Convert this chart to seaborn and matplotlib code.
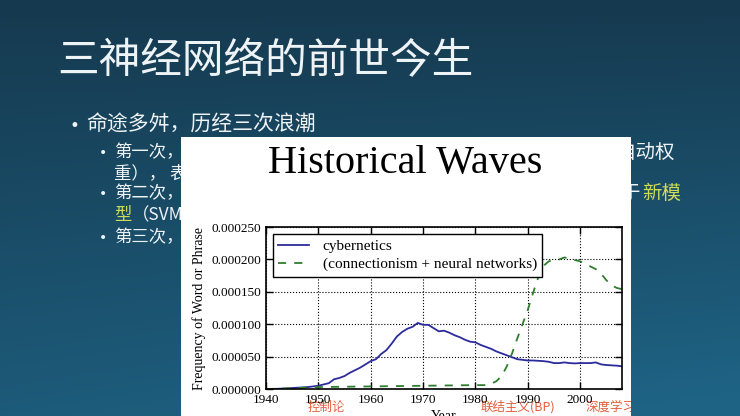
import numpy as np
import pandas as pd
import matplotlib
matplotlib.use("Agg")
import matplotlib.pyplot as plt
import matplotlib.patches as mpatches
from matplotlib.ticker import FormatStrFormatter
from matplotlib.transforms import Bbox
import seaborn as sns

# data (frequency values in units of 1e-6)
years = list(range(1940, 2009))
cybernetics = [0.0, 0.0, 0.3, 0.6, 1.0, 1.5, 2.0, 2.5, 3.0, 4.0,
               5.0, 7.0, 9.0, 15.0, 17.0, 20.0, 25.0, 29.0, 33.0, 38.0,
               43.0, 46.0, 54.0, 60.0, 70.0, 81.0, 88.0, 93.0, 96.0, 102.0,
               99.0, 99.0, 94.0, 89.0, 90.0, 87.0, 83.0, 80.0, 76.0, 73.0,
               72.0, 68.0, 65.0, 62.0, 58.0, 55.0, 52.0, 49.0, 46.0, 45.0,
               44.0, 44.0, 43.5, 43.0, 42.0, 40.0, 40.0, 41.0, 40.0, 39.5,
               40.0, 40.0, 40.0, 41.0, 38.0, 37.0, 36.5, 36.0, 35.0]
conn_years = [1940, 1945, 1950, 1955, 1960, 1965, 1970, 1975, 1980, 1982,
              1983, 1984, 1985, 1986, 1987, 1988, 1989, 1990, 1991, 1992,
              1993, 1994, 1995, 1996, 1997, 1998, 1999, 2000, 2001, 2002,
              2003, 2004, 2005, 2006, 2007, 2008]
connectionism = [0, 1, 3, 3.5, 4, 4.5, 5, 5.5, 6, 6,
                 8, 12, 20, 35, 55, 78, 100, 122, 148, 172,
                 190, 197, 199, 200, 203, 201, 199, 197, 193, 189,
                 185, 178, 168, 160, 156, 154]
y_ticks = [0.0, 0.00005, 0.0001, 0.00015, 0.0002, 0.00025]
x_ticks = [1940, 1950, 1960, 1970, 1980, 1990, 2000]

series_names = ["cybernetics", "(connectionism + neural networks)"]
chart_title = "Historical Waves"
era_labels = ["控制论", "联结主义(BP)", "深度学习"]

slide_title = "三神经网络的前世今生"
bullet_main = "命途多舛，历经三次浪潮"

plt.rcParams["font.family"] = ["Noto Sans CJK SC", "DejaVu Sans"]
serif = ["Liberation Serif", "DejaVu Serif"]
cjk = ["Noto Sans CJK SC", "DejaVu Sans"]

fig = plt.figure(figsize=(7.4, 4.16), dpi=100)

# slide background with a soft gradient
bg = fig.add_axes([0, 0, 1, 1])
bg.set_zorder(-5)
yy, xx = np.mgrid[0:1:416j, 0:1:740j]
t = np.clip(0.8 * yy + 0.25 * xx * yy, 0, 1)[..., None]
top_c = np.array([0.085, 0.225, 0.31])
bot_c = np.array([0.12, 0.39, 0.52])
bg.imshow(top_c + (bot_c - top_c) * t, extent=[0, 740, 416, 0], aspect="auto")
bg.set_xlim(0, 740)
bg.set_ylim(416, 0)
bg.axis("off")

white = "#eef3f6"
green_y = "#cddc5a"

bg.text(57, 62, slide_title, fontsize=30, color=white, va="center", family=cjk, zorder=2)
bg.text(70, 126, "•", fontsize=12, color=white, va="center", family=["DejaVu Sans"], zorder=2)
bg.text(86, 125, bullet_main, fontsize=15, color=white, va="center", family=cjk, zorder=2)

sub_rows = [(152, "第一次，"), (193, "第二次，"), (237, "第三次，")]
for yv, txt in sub_rows:
    bg.text(99, yv + 1, "•", fontsize=10, color=white, va="center", family=["DejaVu Sans"], zorder=2)
    bg.text(114, yv, txt, fontsize=12.5, color=white, va="center", family=cjk, zorder=2)
bg.text(114, 173, "重）， 表", fontsize=12.5, color=white, va="center", family=cjk, zorder=2)
bg.text(114, 215, "型", fontsize=12.5, color=green_y, va="center", family=cjk, zorder=2)
bg.text(132, 215, "（SVM", fontsize=12.5, color=white, va="center", family=cjk, zorder=2)
bg.text(617, 152, "自动权", fontsize=14, color=white, va="center", family=cjk, zorder=2)
bg.text(621, 193, "于", fontsize=14, color=white, va="center", family=cjk, zorder=2)
bg.text(642, 193, "新模", fontsize=14, color=green_y, va="center", family=cjk, zorder=2)

# white picture panel holding the chart
panel = mpatches.Rectangle((181, 137), 450, 279, facecolor="white", edgecolor="none", zorder=3)
bg.add_patch(panel)

red = "#e2603f"
clip = Bbox([[181, 0], [631, 279]])
for xv, txt in zip([308, 480, 586], era_labels):
    tx = bg.text(xv, 407, txt, fontsize=9, color=red, va="center", family=cjk, zorder=4)
    tx.set_clip_box(clip)
    tx.set_clip_on(True)

bg.text(405, 164, chart_title, fontsize=29, color="black", ha="center", va="center",
        family=serif, zorder=4)

# the chart itself
ax = fig.add_axes([266 / 740, 1 - 389 / 416, 356 / 740, 162 / 416])
ax.set_zorder(1)

df_cyb = pd.DataFrame({"Year": years, "freq": np.array(cybernetics) * 1e-6})
df_con = pd.DataFrame({"Year": conn_years, "freq": np.array(connectionism) * 1e-6})

sns.lineplot(data=df_cyb, x="Year", y="freq", ax=ax, color="#2b2b9c", lw=1.3,
             label=series_names[0])
sns.lineplot(data=df_con, x="Year", y="freq", ax=ax, color="#2f7d2f", lw=1.3,
             linestyle=(0, (4.5, 4.5)), label=series_names[1])

ax.set_xlim(1940, 2008)
ax.set_ylim(0, 0.00025)
ax.set_xticks(x_ticks)
ax.set_yticks(y_ticks)
ax.yaxis.set_major_formatter(FormatStrFormatter("%.6f"))
ax.grid(True, color="black", linestyle=":", linewidth=0.8)
ax.tick_params(direction="in", top=True, right=True, length=5, width=1,
               labelsize=9.5, pad=3.5)
for lab in ax.get_xticklabels() + ax.get_yticklabels():
    lab.set_family(serif)
for sp in ax.spines.values():
    sp.set_linewidth(1.2)
    sp.set_color("black")

ax.set_xlabel("Year", fontsize=10, family=serif, labelpad=3)
ax.set_ylabel("Frequency of Word or Phrase", fontsize=10, family=serif, labelpad=4)

leg = ax.legend(loc="upper left", prop={"family": serif, "size": 11}, fancybox=False,
                framealpha=1, edgecolor="black", handlelength=2.0, borderaxespad=0.45,
                labelspacing=0.3, borderpad=0.35, handletextpad=0.9)
leg.get_frame().set_linewidth(1.0)

fig.savefig("out.png", dpi=100)
